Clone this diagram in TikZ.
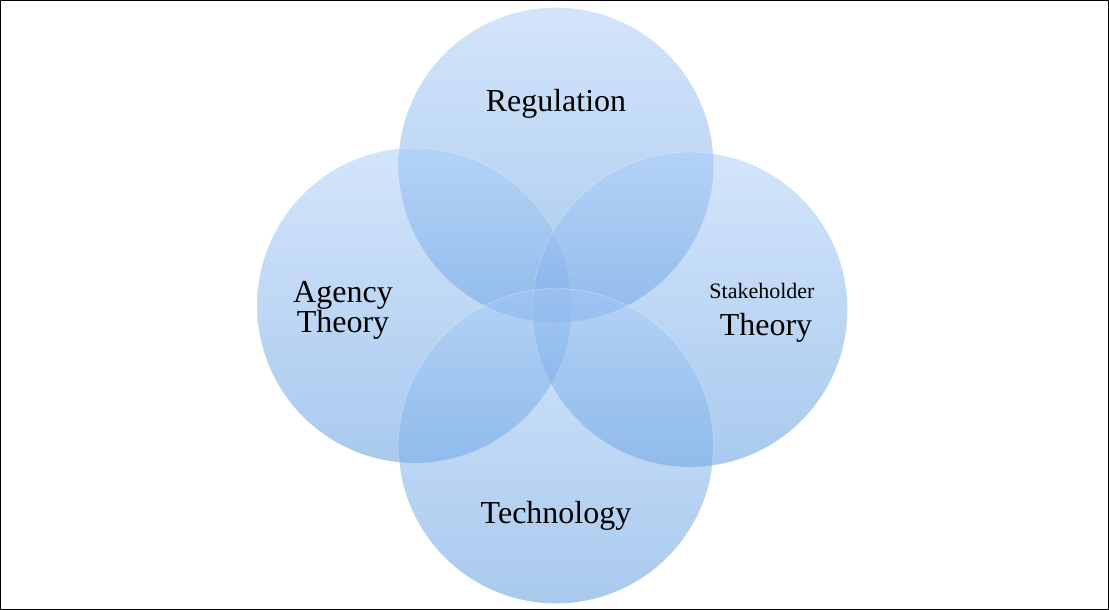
\documentclass[tikz,border=0pt]{standalone}
\usepackage{fontspec}
\setmainfont{Liberation Serif}
\usetikzlibrary{shapes.misc}
\definecolor{ringtop}{HTML}{A8CBF7}
\definecolor{ringbottom}{HTML}{5395DD}
\tikzset{
  ring/.style={circle, minimum size=315pt, inner sep=0pt, top color=ringtop, bottom color=ringbottom, fill opacity=0.5, draw=white, draw opacity=0.4, line width=0.4pt},
  label/.style={text=black, font=\fontsize{32}{32}\selectfont, align=center}
}
\begin{document}
\begin{tikzpicture}[x=1pt,y=-1pt]
          \useasboundingbox (0,0) rectangle (1109,610);
          \draw[line width=1pt] (0.5,0.5) rectangle (1108.5,609.5);

          \node[ring] (Regulation) at (556,165) {};
          \node[ring] (Agency) at (414.5,305.5) {};
          \node[ring] (Stakeholder) at (690,309.5) {};
          \node[ring] (Technology) at (556,446) {};

          \node[label] (RegulationText) at (556,104) {Regulation};
          \node[label, text depth=0pt] (AgencyText) at (343,307) {Agency\\[-2pt]Theory};
          \node[label, font=\fontsize{22}{22}\selectfont] (StakeholderText) at (762,291) {Stakeholder};
          \node[label] (StakeholderTheory) at (766,328) {Theory};
          \node[label] (TechnologyText) at (556,516) {Technology};
        \end{tikzpicture}
\end{document}
